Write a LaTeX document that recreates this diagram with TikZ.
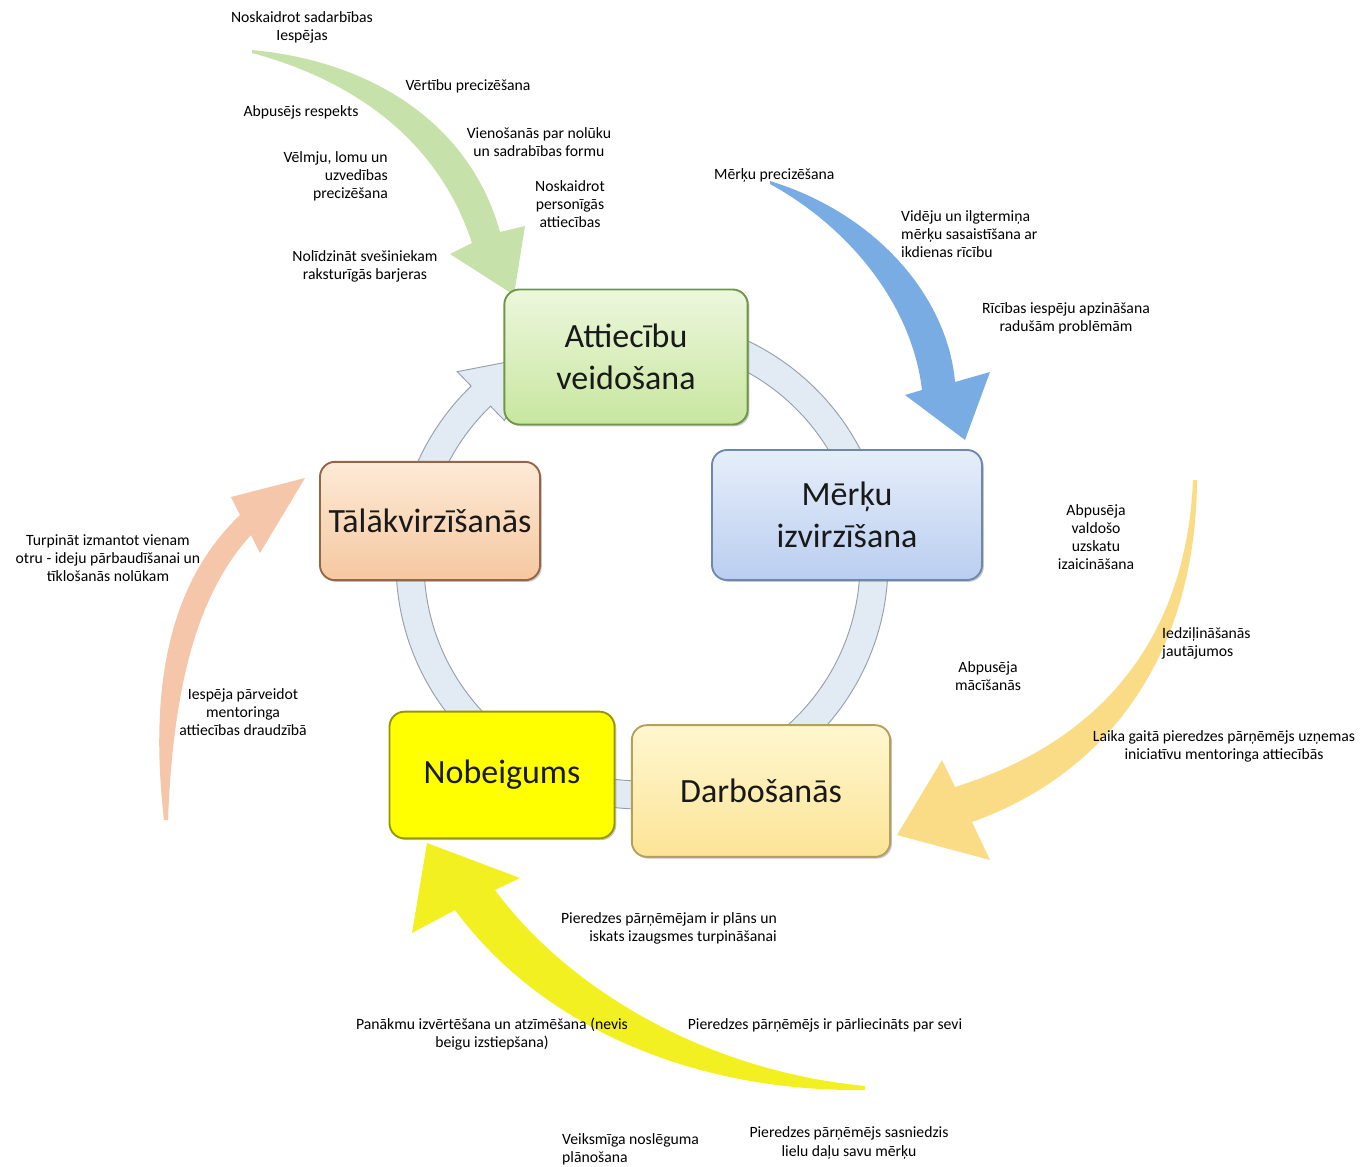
\documentclass[tikz,border=0pt]{standalone}
\usepackage{fontspec}
\setmainfont{Carlito}
\usetikzlibrary{shadows}
\definecolor{attTop}{RGB}{236,247,220}
\definecolor{attBot}{RGB}{200,230,160}
\definecolor{attLine}{RGB}{110,150,70}
\definecolor{merTop}{RGB}{230,238,250}
\definecolor{merBot}{RGB}{186,206,240}
\definecolor{merLine}{RGB}{110,135,175}
\definecolor{talTop}{RGB}{253,234,214}
\definecolor{talBot}{RGB}{245,200,160}
\definecolor{talLine}{RGB}{150,100,70}
\definecolor{nobFill}{RGB}{255,255,0}
\definecolor{nobLine}{RGB}{150,150,0}
\definecolor{darTop}{RGB}{255,247,208}
\definecolor{darBot}{RGB}{252,228,150}
\definecolor{darLine}{RGB}{180,160,90}
\definecolor{ringFill}{RGB}{226,234,244}
\definecolor{ringLine}{RGB}{150,160,172}
\definecolor{arrGreen}{RGB}{198,225,170}
\definecolor{arrBlue}{RGB}{122,172,228}
\definecolor{arrOrange}{RGB}{246,198,170}
\definecolor{arrGold}{RGB}{250,220,134}
\definecolor{arrYellow}{RGB}{242,240,32}
\tikzset{
    stage/.style={rectangle,rounded corners=0.45cm,line width=1.6pt,align=center,
        font=\fontsize{29}{36}\selectfont,text=black!90,
        drop shadow={shadow xshift=1.5pt,shadow yshift=-1.5pt,opacity=.45}},
    note/.style={font=\fontsize{13.4}{15.5}\selectfont,align=center,inner sep=0pt,text=black},
    ring/.style={fill=ringFill,draw=ringLine,line width=0.8pt},
    bigarrow/.style={draw=none},
}
\begin{document}
\begin{tikzpicture}[x=0.03cm,y=-0.03cm]
\useasboundingbox (0,0) rectangle (1372,1166);

% cycle ring
\begin{scope}[shift={(642,563)}]
\filldraw[ring] (-95:246) arc[start angle=-95,end angle=226,radius=246]
    -- (226:266) -- (243:232) -- (226:198) -- (226:218)
    arc[start angle=226,end angle=-95,radius=218] -- cycle;
\end{scope}

% big curved arrows
\fill[bigarrow,arrGreen] (252,50) .. controls (380,62) and (472,130) .. (500,232)
    -- (525,226) -- (514,295) -- (450,254) -- (472,243)
    .. controls (440,145) and (360,82) .. (252,53) -- cycle;
\fill[bigarrow,arrBlue] (770,181) .. controls (880,215) and (948,300) .. (955,382)
    -- (990,372) -- (965,440) -- (905,395) -- (922,390)
    .. controls (912,305) and (850,228) .. (770,184) -- cycle;
\fill[bigarrow,arrOrange] (164,820) .. controls (148,680) and (172,580) .. (240,515)
    -- (231,497) -- (305,478) -- (260,553) -- (251,535)
    .. controls (196,595) and (173,690) .. (168,820) -- cycle;
\fill[bigarrow,arrGold] (1193,480) .. controls (1186,640) and (1100,742) .. (955,787)
    -- (942,760) -- (897,835) -- (990,860) -- (972,822)
    .. controls (1112,772) and (1196,650) .. (1197,480) -- cycle;
\fill[bigarrow,arrYellow] (865,1086) .. controls (700,1070) and (565,985) .. (495,890)
    -- (520,878) -- (427,843) -- (412,933) -- (455,910)
    .. controls (540,1025) and (690,1092) .. (865,1090) -- cycle;

% stages
\node[stage,top color=attTop,bottom color=attBot,draw=attLine,
    minimum width=7.3cm,minimum height=4.05cm] (att) at (626,357) {Attiecību\\veidošana};
\node[stage,top color=merTop,bottom color=merBot,draw=merLine,
    minimum width=8.1cm,minimum height=3.9cm] (merku) at (847,515) {Mērķu\\izvirzīšana};
\node[stage,top color=talTop,bottom color=talBot,draw=talLine,
    minimum width=6.6cm,minimum height=3.55cm] (talak) at (430,521) {Tālākvirzīšanās};
\node[stage,fill=nobFill,draw=nobLine,
    minimum width=6.75cm,minimum height=3.8cm] (nob) at (502,775) {Nobeigums};
\node[stage,top color=darTop,bottom color=darBot,draw=darLine,
    minimum width=7.75cm,minimum height=3.95cm] (darb) at (761,791) {Darbošanās};

% notes: relationship building
\node[note] (g1) at (302,27) {Noskaidrot sadarbības\\Iespējas};
\node[note] (g2) at (468,86) {Vērtību precizēšana};
\node[note] (g3) at (301,112) {Abpusējs respekts};
\node[note] (g4) at (539,142) {Vienošanās par nolūku\\un sadrabības formu};
\node[note,align=right,anchor=east] (g5) at (388,176) {Vēlmju, lomu un\\uzvedības\\precizēšana};
\node[note] (g6) at (570,204) {Noskaidrot\\personīgās\\attiecības};
\node[note] (g7) at (365,266) {Nolīdzināt svešiniekam\\raksturīgās barjeras};

% notes: goal setting
\node[note,anchor=west] (b1) at (714,175) {Mērķu precizēšana};
\node[note,align=left,anchor=west] (b2) at (901,234) {Vidēju un ilgtermiņa\\mērķu sasaistīšana ar\\ikdienas rīcību};
\node[note] (b3) at (1066,318) {Rīcības iespēju apzināšana\\radušām problēmām};

% notes: working
\node[note] (d1) at (1096,537) {Abpusēja\\valdošo\\uzskatu\\izaicināšana};
\node[note,align=left,anchor=west] (d2) at (1162,643) {Iedziļināšanās\\jautājumos};
\node[note] (d3) at (988,676) {Abpusēja\\mācīšanās};
\node[note] (d4) at (1224,746) {Laika gaitā pieredzes pārņēmējs uzņemas\\iniciatīvu mentoringa attiecībās};

% notes: moving on
\node[note] (t1) at (108,558) {Turpināt izmantot vienam\\otru - ideju pārbaudīšanai un\\tīklošanās nolūkam};
\node[note] (t2) at (243,712) {Iespēja pārveidot\\mentoringa\\attiecības draudzībā};

% notes: closure
\node[note,align=right,anchor=east] (n1) at (777,928) {Pieredzes pārņēmējam ir plāns un\\iskats izaugsmes turpināšanai};
\node[note] (n2) at (492,1034) {Panākmu izvērtēšana un atzīmēšana (nevis\\beigu izstiepšana)};
\node[note] (n3) at (825,1025) {Pieredzes pārņēmējs ir pārliecināts par sevi};
\node[note,align=left,anchor=west] (n4) at (562,1149) {Veiksmīga noslēguma\\plānošana};
\node[note] (n5) at (849,1143) {Pieredzes pārņēmējs sasniedzis\\lielu daļu savu mērķu};
\end{tikzpicture}
\end{document}
